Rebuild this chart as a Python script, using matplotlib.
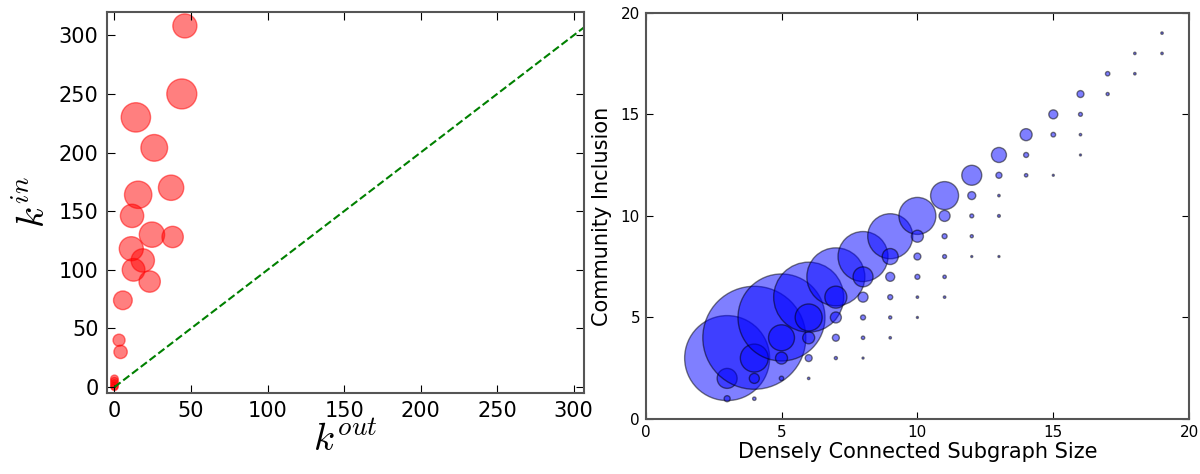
import matplotlib
matplotlib.use("Agg")
import matplotlib.pyplot as plt
import numpy as np

plt.rcParams['mathtext.fontset'] = 'cm'

# left panel: in/out degree of nodes
k_out = [46, 44, 14, 26, 37, 15.5, 11.5, 24.5, 38, 11, 18.5, 12.5, 23, 5.5, 3, 4,
         0, 0, 0, 0, 0]
k_in = [308, 250, 230, 204, 170, 164, 146, 130, 128, 118, 108, 100, 90, 74, 40, 30,
        7, 5, 3, 1, 0]
k_size = [300, 466, 446, 369, 332, 387, 282, 332, 236, 300, 282, 267, 236, 181, 75, 92,
          30, 30, 30, 30, 25]

# right panel: subgraph size vs community inclusion
sub_size = [3, 3, 3,
            4, 4, 4, 4,
            5, 5, 5, 5,
            6, 6, 6, 6, 6,
            7, 7, 7, 7, 7,
            8, 8, 8, 8, 8, 8,
            9, 9, 9, 9, 9, 9,
            10, 10, 10, 10, 10, 10,
            11, 11, 11, 11, 11, 11,
            12, 12, 12, 12, 12,
            13, 13, 13, 13, 13,
            14, 14, 14,
            15, 15, 15,
            16, 16, 16, 16,
            17, 17,
            18, 18,
            19, 19]
inclusion = [3, 2, 1,
             4, 3, 2, 1,
             5, 4, 3, 2,
             6, 5, 4, 3, 2,
             7, 6, 5, 4, 3,
             8, 7, 6, 5, 4, 3,
             9, 8, 7, 6, 5, 4,
             10, 9, 8, 7, 6, 5,
             11, 10, 9, 8, 7, 6,
             12, 11, 10, 9, 8,
             13, 12, 11, 10, 8,
             14, 13, 12,
             15, 14, 12,
             16, 15, 14, 13,
             17, 16,
             18, 17,
             19, 18]
counts = [3745, 207, 19,
          5500, 406, 52, 6,
          3924, 350, 75, 10,
          2540, 378, 75, 25, 3,
          1744, 251, 63, 25, 5,
          1296, 207, 52, 13, 6, 2,
          1050, 133, 42, 13, 5, 3,
          710, 75, 25, 13, 3, 2,
          406, 63, 13, 8, 6, 3,
          207, 33, 8, 5, 2,
          117, 19, 3, 4, 2,
          75, 13, 6,
          42, 11, 2,
          25, 8, 3, 2,
          10, 5,
          3, 3,
          3, 3]

fig = plt.figure(figsize=(12, 4.74), dpi=100)

ax1 = fig.add_axes([0.089, 0.171, 0.398, 0.804])
ax1.scatter(k_out, k_in, s=k_size, c='red', alpha=0.5, edgecolors='red', linewidths=1)
ax1.plot([0, 320], [0, 320], 'g--', lw=1.5)
ax1.set_xlim(-5, 307)
ax1.set_ylim(-5, 320)
ax1.set_xticks([0, 50, 100, 150, 200, 250, 300])
ax1.set_yticks([0, 50, 100, 150, 200, 250, 300])
ax1.tick_params(direction='in', top=True, right=True, labelsize=15, length=6, pad=6)
ax1.set_xlabel(r'$k^{out}$', fontsize=28, labelpad=0)
ax1.set_ylabel(r'$k^{in}$', fontsize=28, labelpad=4)

ax2 = fig.add_axes([0.538, 0.116, 0.453, 0.857])
ax2.scatter(sub_size, inclusion, s=counts, c='blue', alpha=0.5, edgecolors='black', linewidths=1)
ax2.set_xlim(0, 20)
ax2.set_ylim(0, 20)
ax2.set_xticks([0, 5, 10, 15, 20])
ax2.set_yticks([0, 5, 10, 15, 20])
ax2.tick_params(direction='in', top=True, right=True, labelsize=11, length=5, pad=4)
ax2.set_xlabel('Densely Connected Subgraph Size', fontsize=15, labelpad=2)
ax2.set_ylabel('Community Inclusion', fontsize=15, labelpad=6)

for ax in (ax1, ax2):
    for sp in ax.spines.values():
        sp.set_color('#555555')
        sp.set_linewidth(1.5)

fig.savefig('out.png', dpi=100)
